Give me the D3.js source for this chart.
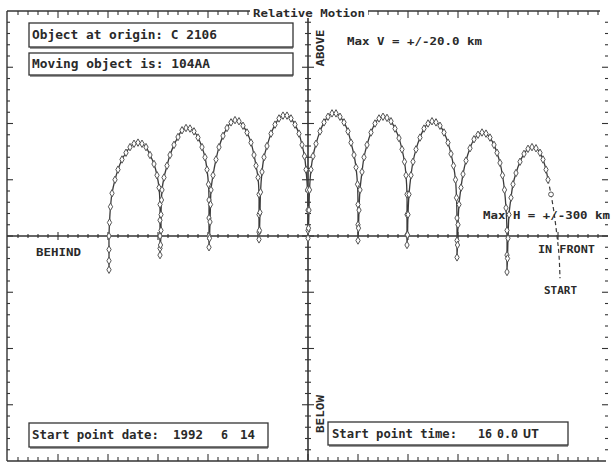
<!DOCTYPE html>
<html><head><meta charset="utf-8">
<script src="https://cdn.jsdelivr.net/npm/d3@7"></script>
<style>
html,body{margin:0;padding:0;background:#fff;}
svg{display:block;}
text{font-family:"DejaVu Sans Mono",monospace;font-weight:bold;fill:#2a2a2a;}
</style></head>
<body>
<script>
// ---- data (km) ----
const trackX = [
 -199,-199,-199,-199,-198.5,-197.5,-196,-193,-190,-186,-182,-178,-174,-170,-166,-162,-158,-154,-151,-149,-148,-148,-148,-148,-148,
 -147.5,-147,-147,-146.5,
 -146,-144,-141,-138,-134,-130,-126,-122,-118,-114,-110,-106,-103,-101,-99.5,-99,-99,-99,-99,
 -98.5,-98,-97.5,
 -97,-95,-92,-89,-85,-81,-77,-73,-69,-65,-61,-57,-54,-52,-50,-49,-49,-49,-49,
 -48.5,-48,-47.5,
 -46,-44,-41,-37,-33,-29,-25,-21,-17,-13,-9,-6,-3.5,-2,-0.5,0,0,0,
 0.5,1,1.5,
 3,5,8,12,16,20,24,28,32,36,40,43,46,48,49.5,50,50,50,
 50.5,51,52,
 54,56,59,63,67,71,75,79,83,87,91,94,96.5,98,99,99,99,99,
 99.5,100,101,
 103,105,108,112,116,120,124,128,132,136,140,143,145.5,147.5,148.5,149,149,149,
 149.5,150,151,
 153,155,158,162,166,170,174,178,182,186,189,192,194.5,196.5,198,199,199,199,
 199.5,200,201,
 203,205,208,212,216,220,224,228,232,235,238,240
];
const trackY = [
 -3.0,-2.2,-1.2,0,1.2,2.6,3.8,5.0,5.9,6.8,7.4,7.9,8.2,8.3,8.2,7.9,7.2,6.4,5.4,4.3,2.8,1.4,0,-1.1,-1.7,
 -0.8,0.5,1.9,3.2,
 4.1,5.2,6.25,7.2,8.1,8.8,9.4,9.6,9.55,9.3,8.75,7.9,7.0,5.9,4.6,3.2,1.6,0,-1.0,
 -0.2,1.25,2.8,
 4.1,5.4,6.8,7.9,8.9,9.6,10.1,10.3,10.2,9.8,9.2,8.3,7.2,6.25,5.2,3.7,1.9,0.35,-0.3,
 0.5,2.1,3.9,
 5.7,7.0,8.0,9.1,9.9,10.45,10.7,10.7,10.45,9.9,9.1,8.1,7.1,5.9,4.1,2.3,0.5,-0.2,
 0.7,2.3,4.1,
 5.9,7.1,8.2,9.3,10.1,10.6,10.9,10.9,10.6,10.1,9.3,8.3,7.2,6.1,4.6,2.8,1.0,-0.4,
 0.7,2.3,4.1,
 5.7,7.0,8.1,9.2,10.0,10.45,10.6,10.5,10.2,9.55,8.7,7.7,6.6,5.4,3.7,1.9,0.1,-0.8,
 0.1,1.9,3.7,
 5.4,6.6,7.7,8.75,9.55,10.0,10.2,10.1,9.8,9.2,8.3,7.3,6.25,5.0,3.4,1.6,-0.4,-1.9,
 -0.8,1.0,2.8,
 4.3,5.5,6.7,7.8,8.6,9.0,9.2,9.1,8.75,8.1,7.4,6.5,5.4,4.1,2.5,0.5,-1.7,-3.2,
 -2.0,-0.2,1.9,
 3.4,4.6,5.6,6.6,7.3,7.75,7.9,7.8,7.4,6.8,5.9,5.0
];
const startX = [240,243,246,249,251,252];
const startY = [5.0,3.7,2.1,0,-1.7,-3.75];
const maxH = 300, maxV = 20;

const W = 611, H = 465;
const svg = d3.select("body").append("svg").attr("width", W).attr("height", H);
const x = d3.scaleLinear().domain([-maxH, maxH]).range([8, 608]);
const y = d3.scaleLinear().domain([-maxV, maxV]).range([461, 11]);
const ink = "#333";

// frame
const g = svg.append("g").attr("stroke", ink).attr("stroke-width", 1.4).attr("fill", "none");
g.append("line").attr("x1", 7).attr("x2", 7).attr("y1", y(maxV)).attr("y2", y(-maxV));
g.append("line").attr("x1", 7).attr("x2", 600).attr("y1", y(maxV)).attr("y2", y(maxV));
g.append("line").attr("x1", 7).attr("x2", 606).attr("y1", y(-maxV)).attr("y2", y(-maxV));
// axes
g.append("line").attr("x1", 7).attr("x2", 608).attr("y1", y(0)).attr("y2", y(0)).attr("stroke-width", 1.6);
g.append("line").attr("x1", x(0)).attr("x2", x(0)).attr("y1", y(maxV)).attr("y2", y(-maxV)).attr("stroke-width", 1.6);

const xt = d3.range(-maxH + 10, maxH, 10);
const yt = d3.range(-maxV + 1, maxV, 1);
const tk = svg.append("g").attr("stroke", ink).attr("stroke-width", 1.1);
// top & bottom ticks
xt.forEach(v => {
  const L = v % 50 === 0 ? 7 : 4;
  tk.append("line").attr("x1", x(v)).attr("x2", x(v)).attr("y1", y(maxV)).attr("y2", y(maxV) + L);
  tk.append("line").attr("x1", x(v)).attr("x2", x(v)).attr("y1", y(-maxV)).attr("y2", y(-maxV) - L);
  const A = v % 50 === 0 ? 4 : 2;
  tk.append("line").attr("x1", x(v)).attr("x2", x(v)).attr("y1", y(0) - A).attr("y2", y(0) + A);
});
// left, right & vertical axis ticks
yt.forEach(v => {
  const L = v % 5 === 0 ? 6 : 3;
  tk.append("line").attr("x1", 7).attr("x2", 7 + L).attr("y1", y(v)).attr("y2", y(v));
  tk.append("line").attr("x1", 608).attr("x2", 608 - L).attr("y1", y(v)).attr("y2", y(v));
  const A = v % 5 === 0 ? 6 : 3;
  tk.append("line").attr("x1", x(0) - A).attr("x2", x(0) + A).attr("y1", y(v)).attr("y2", y(v));
});

// track
const pts = trackX.map((v, i) => [v, trackY[i]]);
const sp = startX.map((v, i) => [v, startY[i]]);
const line = d3.line().x(d => x(d[0])).y(d => y(d[1])).curve(d3.curveCatmullRom.alpha(0.5));
svg.append("path").attr("d", line(pts)).attr("fill", "none").attr("stroke", "#3a3a3a").attr("stroke-width", 1.3);
svg.append("path").attr("d", line(sp)).attr("fill", "none").attr("stroke", "#3a3a3a").attr("stroke-width", 1.2).attr("stroke-dasharray", "4,3");
const sym = d3.symbol().type(d3.symbolDiamond).size(16);
svg.append("g").selectAll("path").data(pts).join("path")
  .attr("d", sym).attr("transform", d => `translate(${x(d[0])},${y(d[1])})`)
  .attr("fill", "#fff").attr("stroke", "#555").attr("stroke-width", 1);
svg.append("path").attr("d", d3.symbol().type(d3.symbolCircle).size(18)())
  .attr("transform", `translate(${x(startX[1])},${y(startY[1])})`).attr("fill", "#fff").attr("stroke", "#555");

// text helpers
function txt(s, px, py, w, size) {
  return svg.append("text").attr("x", px).attr("y", py).attr("font-size", size || 12)
    .attr("textLength", w).attr("lengthAdjust", "spacingAndGlyphs").text(s);
}
function box(x0, y0, x1, y1) {
  svg.append("rect").attr("x", x0).attr("y", y0).attr("width", x1 - x0).attr("height", y1 - y0)
    .attr("fill", "#fff").attr("stroke", ink).attr("stroke-width", 1.3);
  svg.append("line").attr("x1", x0 + 1).attr("x2", x1).attr("y1", y1 + 1).attr("y2", y1 + 1)
    .attr("stroke", ink).attr("stroke-width", 1.2);
}

// title
svg.append("rect").attr("x", 250).attr("y", 6).attr("width", 118).attr("height", 12).attr("fill", "#fff");
txt("Relative Motion", 253, 16.5, 112, 11);

box(29, 23, 293, 47);
txt("Object at origin: C 2106", 32, 39, 185, 12);
box(29, 53, 293, 75);
txt("Moving object is: 104AA", 32, 68, 178, 12);

txt("Max V = +/-20.0 km", 347, 45, 135, 11);
txt("Max H = +/-300 km", 483, 219, 127, 11);
txt("BEHIND", 36, 256, 45, 11);
txt("IN FRONT", 538, 253, 57, 11);
txt("START", 544, 294, 33, 10);

svg.append("text").attr("transform", "translate(324,48) rotate(-90)").attr("text-anchor", "middle")
  .attr("font-size", 10).attr("textLength", 37).attr("lengthAdjust", "spacingAndGlyphs").text("ABOVE");
svg.append("text").attr("transform", "translate(324,414) rotate(-90)").attr("text-anchor", "middle")
  .attr("font-size", 10).attr("textLength", 38).attr("lengthAdjust", "spacingAndGlyphs").text("BELOW");

box(29, 423, 268, 447);
txt("Start point date:", 32, 439, 127, 12);
txt("1992", 173, 439, 30, 12);
txt("6", 221, 439, 7, 12);
txt("14", 240, 439, 15, 12);

box(328, 422, 568, 445);
txt("Start point time:", 332, 438, 125, 12);
txt("16", 478, 438, 14, 12);
txt("0.0", 497, 438, 21, 12);
txt("UT", 523, 438, 16, 12);
</script>
</body></html>
